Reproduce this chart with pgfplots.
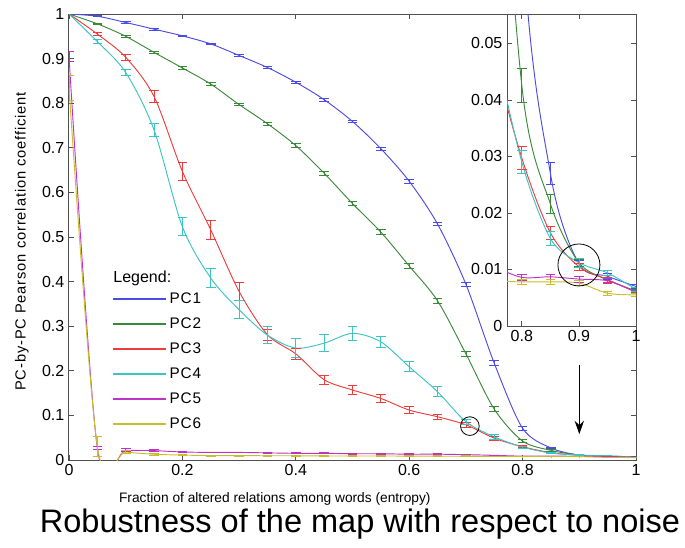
\documentclass[border=0pt]{standalone}
\usepackage{fontspec}
\setmainfont{Liberation Sans}
\newfontfamily\spaced[LetterSpace=6]{Liberation Sans}
\usepackage{pgfplots}
\usepackage{pgfplotstable}
\pgfplotsset{compat=1.18}
\usetikzlibrary{arrows.meta}
\definecolor{cA}{RGB}{75,75,230}
\definecolor{cB}{RGB}{58,138,58}
\definecolor{cC}{RGB}{238,60,60}
\definecolor{cD}{RGB}{60,195,195}
\definecolor{cE}{RGB}{190,50,200}
\definecolor{cF}{RGB}{200,190,40}
\definecolor{axgray}{RGB}{80,80,80}

% x, then value and half error bar for PC1..PC6
\pgfplotstableread{
x    a      ea     b      eb     c      ec     d      ed     e      ee     f      ef
0    1      0      1      0      1      0      1      0      0.905  0.012  0.835  0.028
0.05 0.995  0.001  0.978  0.002  0.955  0.004  0.938  0.005  0.027  0.003  0.030  0.022
0.10 0.981  0.002  0.950  0.002  0.903  0.006  0.869  0.006  0.022  0.003  0.018  0.003
0.15 0.966  0.002  0.914  0.003  0.815  0.013  0.740  0.015  0.021  0.002  0.013  0.002
0.20 0.951  0.002  0.879  0.003  0.647  0.020  0.523  0.020  0.018  0.001  0.011  0.001
0.25 0.933  0.002  0.843  0.003  0.516  0.022  0.408  0.022  0.017  0.001  0.010  0.001
0.30 0.907  0.002  0.797  0.003  0.378  0.021  0.337  0.020  0.017  0.001  0.010  0.001
0.35 0.880  0.003  0.754  0.004  0.281  0.012  0.280  0.019  0.016  0.001  0.0095 0.001
0.40 0.847  0.003  0.705  0.004  0.238  0.012  0.251  0.022  0.015  0.001  0.0095 0.001
0.45 0.808  0.003  0.643  0.005  0.180  0.010  0.262  0.019  0.015  0.001  0.009  0.001
0.50 0.759  0.003  0.575  0.005  0.157  0.010  0.284  0.015  0.014  0.001  0.009  0.001
0.55 0.698  0.003  0.511  0.005  0.138  0.008  0.265  0.012  0.014  0.001  0.009  0.001
0.60 0.625  0.004  0.435  0.006  0.112  0.008  0.209  0.011  0.013  0.001  0.0088 0.001
0.65 0.529  0.004  0.357  0.006  0.097  0.006  0.153  0.011  0.013  0.001  0.0085 0.001
0.70 0.394  0.005  0.238  0.006  0.079  0.005  0.086  0.006  0.012  0.001  0.0083 0.001
0.75 0.217  0.006  0.114  0.006  0.049  0.004  0.052  0.006  0.0105 0.0008 0.008  0.0008
0.80 0.071  0.005  0.0425 0.003  0.0297 0.002  0.029  0.002  0.0086 0.0005 0.0078 0.0004
0.85 0.027  0.002  0.0216 0.0017 0.0165 0.0012 0.0155 0.0012 0.0087 0.0005 0.0078 0.0004
0.90 0.011  0.0006 0.0112 0.0006 0.0105 0.0006 0.0112 0.0008 0.0083 0.0005 0.0076 0.0004
0.95 0.0088 0.0005 0.0082 0.0004 0.0082 0.0004 0.0094 0.0005 0.0080 0.0005 0.0058 0.0003
1.00 0.007  0.0003 0.0062 0.0003 0.006  0.0003 0.0065 0.0003 0.006  0.0003 0.0055 0.0003
}\pc

\pgfplotsset{
  pcline/.style={#1, smooth, no markers, line width=0.7pt},
  pcerr/.style={draw=none, mark=none, forget plot,
    error bars/y dir=both, error bars/y explicit,
    error bars/error bar style={draw=#1, solid, line width=0.6pt},
    error bars/error mark options={draw=#1, rotate=90, mark size=3.6pt, line width=0.6pt}},
  box/.style={scale only axis, tick align=inside, major tick length=4pt,
    axis line style={axgray, line width=0.75pt},
    tick style={axgray, line width=0.6pt},
    tick label style={font=\fontsize{12}{14}\selectfont},
    scaled ticks=false,
    /pgf/number format/assume math mode=true},
}

\begin{document}
\begin{tikzpicture}
\useasboundingbox (-51.75pt,-65.25pt) rectangle (462pt,345pt);
\begin{axis}[box, at={(0,0)}, anchor=south west,
  width=425.25pt, height=334.5pt,
  xmin=0, xmax=1, ymin=0, ymax=1,
  xtick={0,0.2,0.4,0.6,0.8,1}, xticklabels={0,0.2,0.4,0.6,0.8,1},
  ytick={0,0.1,0.2,0.3,0.4,0.5,0.6,0.7,0.8,0.9,1},
  yticklabels={0,0.1,0.2,0.3,0.4,0.5,0.6,0.7,0.8,0.9,1},
  xlabel={Fraction of altered relations among words (entropy)},
  xlabel style={font=\fontsize{10.3}{12}\selectfont, at={(axis description cs:0.363,0)}, anchor=base, yshift=-31.5pt},
  ylabel={PC-by-PC Pearson correlation coefficient},
  ylabel style={font=\spaced\fontsize{11}{13}\selectfont, at={(axis description cs:-0.083,0.49)}, anchor=center},
  legend style={draw=none, fill=none, at={(axis description cs:0.068,0.387)}, anchor=north west,
    font=\spaced\fontsize{11.5}{13}\selectfont, row sep=5.2pt},
  legend cell align=left,
  legend image code/.code={\draw[#1, line width=1.3pt] (0pt,0pt) -- (40pt,0pt);},
]
\addplot[pcline=cA] table[x=x, y=a] {\pc}; \addlegendentry{PC1}
\addplot[pcline=cB] table[x=x, y=b] {\pc}; \addlegendentry{PC2}
\addplot[pcline=cC] table[x=x, y=c] {\pc}; \addlegendentry{PC3}
\addplot[pcline=cD] table[x=x, y=d] {\pc}; \addlegendentry{PC4}
\addplot[pcline=cE] table[x=x, y=e] {\pc}; \addlegendentry{PC5}
\addplot[pcline=cF] table[x=x, y=f] {\pc}; \addlegendentry{PC6}
\addplot[pcerr=cA, skip coords between index={0}{1}] table[x=x, y=a, y error=ea] {\pc};
\addplot[pcerr=cB, skip coords between index={0}{1}] table[x=x, y=b, y error=eb] {\pc};
\addplot[pcerr=cC, skip coords between index={0}{1}] table[x=x, y=c, y error=ec] {\pc};
\addplot[pcerr=cD, skip coords between index={0}{1}] table[x=x, y=d, y error=ed] {\pc};
\addplot[pcerr=cE] table[x=x, y=e, y error=ee] {\pc};
\addplot[pcerr=cF] table[x=x, y=f, y error=ef] {\pc};
\node[anchor=base west, font=\fontsize{12}{14}\selectfont] at (axis description cs:0.070,0.397) {Legend:};
\draw[black, line width=0.6pt] (axis cs:0.707,0.076) circle[radius=7pt];
\draw[black, line width=0.75pt, -{Stealth[length=10pt, width=7pt]}] (axis cs:0.9,0.213) -- (axis cs:0.9,0.058);
\end{axis}

\begin{axis}[box, at={(328.5pt,100.5pt)}, anchor=south west,
  width=96.75pt, height=234pt,
  xmin=0.774, xmax=1, ymin=0, ymax=0.0552,
  axis background/.style={fill=white},
  clip marker paths=true,
  xtick={0.8,0.9,1}, xticklabels={0.8,0.9,1},
  ytick={0,0.01,0.02,0.03,0.04,0.05}, yticklabels={0,0.01,0.02,0.03,0.04,0.05},
]
\addplot[pcline=cA] table[x=x, y=a] {\pc};
\addplot[pcline=cB] table[x=x, y=b] {\pc};
\addplot[pcline=cC] table[x=x, y=c] {\pc};
\addplot[pcline=cD] table[x=x, y=d] {\pc};
\addplot[pcline=cE] table[x=x, y=e] {\pc};
\addplot[pcline=cF] table[x=x, y=f] {\pc};
\addplot[pcerr=cA] table[x=x, y=a, y error=ea] {\pc};
\addplot[pcerr=cB] table[x=x, y=b, y error=eb] {\pc};
\addplot[pcerr=cC] table[x=x, y=c, y error=ec] {\pc};
\addplot[pcerr=cD] table[x=x, y=d, y error=ed] {\pc};
\addplot[pcerr=cE] table[x=x, y=e, y error=ee] {\pc};
\addplot[pcerr=cF] table[x=x, y=f, y error=ef] {\pc};
\draw[black, line width=0.6pt] (axis cs:0.90,0.0108) circle[radius=15.75pt];
\end{axis}

\node[anchor=base, font=\fontsize{24.4}{28}\selectfont] at (218.25pt,-54pt) {Robustness of the map with respect to noise};
\end{tikzpicture}
\end{document}
